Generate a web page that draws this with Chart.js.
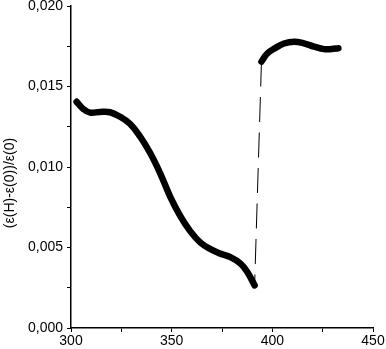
<!DOCTYPE html>
<html>
<head>
<meta charset="utf-8">
<script src="https://cdn.jsdelivr.net/npm/chart.js@4"></script>
<style>
  html, body { margin: 0; padding: 0; background: #fff; }
  #chart { display: block; }
</style>
</head>
<body>
<canvas id="chart" width="386" height="349"></canvas>
<script>
// Below the transition (left branch)
var lowX = [302.8, 306.1, 309.5, 314.4, 319.4, 324.4, 329.4, 334.4, 339.4, 344.3,
            349.3, 354.3, 359.3, 364.3, 369.3, 374.2, 379.2, 384.2, 387.5, 391.2];
var lowY = [0.01405, 0.01360, 0.01338, 0.01342, 0.01340, 0.01312, 0.01267, 0.01188, 0.01085, 0.00961,
            0.00815, 0.00695, 0.00600, 0.00530, 0.00490, 0.00462, 0.00440, 0.00400, 0.00350, 0.00265];

// Above the transition (right branch)
var highX = [394.6, 397.5, 401.6, 405.8, 410.8, 415.7, 420.7, 425.7, 429.5, 432.8];
var highY = [0.01655, 0.01705, 0.01740, 0.01767, 0.01778, 0.01768, 0.01748, 0.01732, 0.01733, 0.01738];

// Axis ticks
var xTicks = [300, 350, 400, 450];
var yTicks = [0, 0.005, 0.010, 0.015, 0.020];

var yTitle = '(\u03b5(H)-\u03b5(0))/\u03b5(0)';
var FONT = '"Liberation Sans", Arial, sans-serif';

function toPoints(xs, ys) {
  return xs.map(function(x, i) { return { x: x, y: ys[i] }; });
}

// Dashed jump joins the start of the upper branch to the end of the lower one
var jump = [
  { x: highX[0], y: highY[0] },
  { x: lowX[lowX.length - 1], y: lowY[lowY.length - 1] }
];

// Draw the rotated y title a bit below the middle, as in the original
var yTitlePlugin = {
  id: 'yTitle',
  afterDraw: function(chart) {
    var ctx = chart.ctx;
    ctx.save();
    ctx.translate(10, 183);
    ctx.rotate(-Math.PI / 2);
    ctx.fillStyle = '#000';
    ctx.font = '14px ' + FONT;
    ctx.textAlign = 'center';
    ctx.textBaseline = 'middle';
    ctx.fillText(yTitle, 0, 0);
    ctx.restore();
  }
};

function noPad(scale) {
  scale.paddingTop = 0;
  scale.paddingBottom = 0;
  scale.paddingLeft = 0;
  scale.paddingRight = 0;
}

function branch(points) {
  return {
    data: points,
    showLine: true,
    borderColor: '#000',
    borderWidth: 6.5,
    borderCapStyle: 'round',
    borderJoinStyle: 'round',
    tension: 0.4,
    pointRadius: 0
  };
}

new Chart(document.getElementById('chart'), {
  type: 'scatter',
  data: {
    datasets: [
      {
        data: jump,
        showLine: true,
        borderColor: '#000',
        borderWidth: 1,
        borderDash: [25, 10.5],
        pointRadius: 0
      },
      branch(toPoints(lowX, lowY)),
      branch(toPoints(highX, highY))
    ]
  },
  options: {
    responsive: false,
    animation: false,
    devicePixelRatio: 1,
    layout: { padding: { top: 6, right: 13, left: 0, bottom: 0 } },
    plugins: {
      legend: { display: false },
      tooltip: { enabled: false }
    },
    scales: {
      x: {
        type: 'linear',
        min: xTicks[0],
        max: xTicks[xTicks.length - 1],
        afterFit: function(s) { s.height = 21; noPad(s); },
        ticks: {
          stepSize: 25,
          autoSkip: false,
          maxRotation: 0,
          padding: 1,
          color: '#000',
          font: { family: FONT, size: 14 },
          callback: function(v) {
            return xTicks.indexOf(v) >= 0 ? String(v) : '';
          }
        },
        grid: { drawOnChartArea: false, tickLength: 4, tickColor: '#000', tickWidth: 1 },
        border: { color: '#000', width: 1.5 }
      },
      y: {
        min: yTicks[0],
        max: yTicks[yTicks.length - 1],
        afterFit: function(s) { s.width = 71; noPad(s); },
        ticks: {
          stepSize: 0.0025,
          autoSkip: false,
          padding: 4,
          color: '#000',
          font: { family: FONT, size: 14 },
          callback: function(v) {
            var n = Math.round(v / 0.0025);
            if (n % 2 !== 0) return '';
            return (n * 0.0025).toFixed(3).replace('.', ',');
          }
        },
        grid: { drawOnChartArea: false, tickLength: 4, tickColor: '#000', tickWidth: 1 },
        border: { color: '#000', width: 1.5 }
      }
    }
  },
  plugins: [yTitlePlugin]
});
</script>
</body>
</html>
